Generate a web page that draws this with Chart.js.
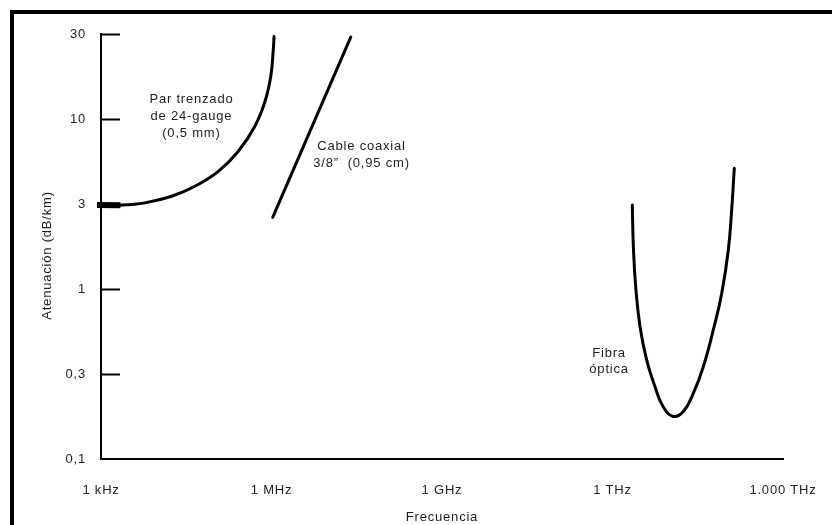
<!DOCTYPE html>
<html><head><meta charset="utf-8">
<script src="https://cdn.jsdelivr.net/npm/chart.js@4/dist/chart.umd.min.js"></script>
<style>
html,body{margin:0;padding:0;background:#fff;overflow:hidden}
#wrap{position:relative;width:832px;height:525px;overflow:hidden}
#frame{position:absolute;left:10px;top:10px;width:840px;height:540px;border-top:4px solid #000;border-left:4px solid #000;pointer-events:none}
canvas{position:absolute;left:0;top:0}
</style></head><body>
<div id="wrap"><canvas id="c" width="832" height="525"></canvas><div id="frame"></div></div>
<script>
// Axis ticks
const xTickValues = [1e3, 1e6, 1e9, 1e12, 1e15];
const xTickLabels = ['1 kHz', '1 MHz', '1 GHz', '1 THz', '1.000 THz'];
const yTickValues = [0.1, 0.316, 1, 3.16, 10, 31.6];
const yTickLabels = ['0,1', '0,3', '1', '3', '10', '30'];

// Par trenzado de 24-gauge
const twistedFreq = [1e3, 2.16e3, 5.9e3, 1.75e4, 4.5e4, 1.16e5, 2.61e5, 5.1e5, 7.7e5, 9.8e5, 1.08e6, 1.11e6];
const twistedAtt  = [3.12, 3.11, 3.21, 3.51, 4.02, 4.92, 6.46, 9.06, 12.7, 18.2, 26.2, 30.6];
// thick start segment of the twisted-pair curve
const stubFreq = [8.5e2, 2.2e3];
const stubAtt  = [3.12, 3.11];

// Cable coaxial 3/8"
const coaxFreq = [1.05e6, 2.48e7];
const coaxAtt  = [2.64, 30.3];

// Fibra óptica
const fiberFreq = [2.23e12, 2.33e12, 2.56e12, 3.05e12, 4.0e12, 5.6e12, 7.8e12, 1.17e13, 1.76e13, 2.64e13, 3.96e13, 5.94e13, 8.36e13, 1.09e14, 1.25e14, 1.39e14];
const fiberAtt  = [3.12, 1.77, 1.03, 0.60, 0.382, 0.266, 0.203, 0.178, 0.190, 0.243, 0.349, 0.574, 0.944, 1.69, 2.92, 5.13];

// Curve labels (anchored in data units)
const noteLines = [['Par trenzado', 'de 24-gauge', '(0,5 mm)'], ['Cable coaxial', '3/8\u201D  (0,95 cm)'], ['Fibra', '\u00F3ptica']];
const noteFreq = [3.9e4, 3.84e7, 8.7e11];
const noteAtt  = [13.0, 6.93, 0.42];

const FONT = 'Liberation Sans, Arial, Helvetica, sans-serif';
const TXT = '#1e1e1e';

const pts = (xs, ys) => xs.map((x, i) => ({x, y: ys[i]}));

const decor = {
  id: 'decor',
  beforeDraw(chart) { chart.ctx.letterSpacing = '0.8px'; },
  afterDraw(chart) {
    const {ctx, chartArea, scales} = chart;
    const xs = scales.x, ys = scales.y;
    ctx.save();
    ctx.letterSpacing = '0.8px';
    // inward y ticks
    ctx.strokeStyle = '#000';
    ctx.lineWidth = 2;
    yTickValues.forEach(v => {
      if (v <= 0.1) return;
      const py = Math.round(ys.getPixelForValue(v)) + 0.5;
      ctx.beginPath();
      ctx.moveTo(chartArea.left, py);
      ctx.lineTo(chartArea.left + 19, py);
      ctx.stroke();
    });
    // curve labels
    ctx.fillStyle = TXT;
    ctx.font = '13px ' + FONT;
    ctx.textAlign = 'center';
    ctx.textBaseline = 'middle';
    noteLines.forEach((lines, i) => {
      const px = xs.getPixelForValue(noteFreq[i]);
      const py = ys.getPixelForValue(noteAtt[i]);
      const lh = i === 2 ? 16 : 17;
      lines.forEach((t, j) => ctx.fillText(t, px, py + j * lh));
    });
    // y axis title
    ctx.translate(47, (chartArea.top + chartArea.bottom) / 2 + 9);
    ctx.rotate(-Math.PI / 2);
    ctx.fillText('Atenuación (dB/km)', 0, 0);
    ctx.restore();
  }
};

new Chart(document.getElementById('c'), {
  type: 'line',
  data: {
    datasets: [
      {data: pts(twistedFreq, twistedAtt), tension: 0.4},
      {data: pts(stubFreq, stubAtt), borderWidth: 6, borderCapStyle: 'butt', clip: false, tension: 0},
      {data: pts(coaxFreq, coaxAtt), tension: 0},
      {data: pts(fiberFreq, fiberAtt), tension: 0.45}
    ]
  },
  options: {
    responsive: false,
    animation: false,
    devicePixelRatio: 1,
    layout: {padding: {top: 34, right: 49, left: 0, bottom: 0}},
    plugins: {legend: {display: false}, tooltip: {enabled: false}},
    elements: {
      point: {radius: 0, hoverRadius: 0},
      line: {borderColor: '#000', borderWidth: 3, borderCapStyle: 'round', borderJoinStyle: 'round', fill: false, capBezierPoints: false}
    },
    scales: {
      x: {
        type: 'logarithmic', min: 1e3, max: 1e15,
        grid: {display: false},
        border: {display: true, color: '#000', width: 2},
        ticks: {autoSkip: false, maxRotation: 0, minRotation: 0, padding: 16, color: TXT,
          font: {family: FONT, size: 13},
          callback: (v, i) => xTickLabels[i]},
        afterBuildTicks: s => { s.ticks = xTickValues.map(v => ({value: v})); },
        afterFit: s => { s.height = 66; },
        title: {display: true, text: 'Frecuencia', color: TXT, font: {family: FONT, size: 13}, padding: {top: 0, bottom: 0}}
      },
      y: {
        type: 'logarithmic', min: 0.1, max: 31.6,
        grid: {display: false},
        border: {display: true, color: '#000', width: 2},
        ticks: {autoSkip: false, padding: 7, color: TXT, font: {family: FONT, size: 13},
          callback: (v, i) => yTickLabels[i]},
        afterBuildTicks: s => { s.ticks = yTickValues.map(v => ({value: v})); },
        afterFit: s => { s.width = 101; }
      }
    }
  },
  plugins: [decor]
});
</script>
</body></html>
